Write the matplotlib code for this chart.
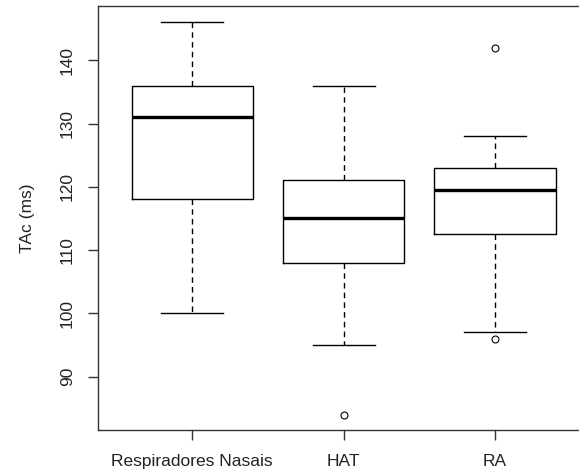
import matplotlib
matplotlib.use("Agg")
import matplotlib.pyplot as plt

plt.rcParams['font.family'] = ['Liberation Sans', 'DejaVu Sans']

groups = ["Respiradores Nasais", "HAT", "RA"]
whisker_low = [100, 95, 97]
q1 = [118, 108, 112.5]
medians = [131, 115, 119.5]
q3 = [136, 121, 123]
whisker_high = [146, 136, 128]
outliers = [[], [84], [96, 142]]

stats = []
for i in range(len(groups)):
    stats.append({"label": groups[i], "whislo": whisker_low[i], "q1": q1[i],
                  "med": medians[i], "q3": q3[i], "whishi": whisker_high[i],
                  "fliers": outliers[i]})

fig = plt.figure(figsize=(5.79, 4.74), dpi=100)
ax = fig.add_axes([0.170, 0.0918, 0.847, 0.8945])

ax.bxp(stats, positions=[1, 2, 3], widths=0.8, showfliers=True,
       boxprops=dict(color="black", linewidth=1.0),
       medianprops=dict(color="black", linewidth=2.4),
       whiskerprops=dict(color="black", linewidth=1.0, linestyle=(0, (4, 3))),
       capprops=dict(color="black", linewidth=1.0),
       flierprops=dict(marker="o", markerfacecolor="white", markeredgecolor="black",
                       markersize=5, markeredgewidth=0.8),
       capwidths=0.41)

ax.set_xlim(0.38, 3.62)
ax.set_ylim(81.52, 148.48)
ax.set_yticks([90, 100, 110, 120, 130, 140])
ax.set_xticks([1, 2, 3])
ax.set_xticklabels(groups)
for lbl in ax.get_yticklabels():
    lbl.set_rotation(90)
    lbl.set_va("center")
ax.tick_params(axis="both", length=7, width=1.0, color="#333333", labelsize=12.5,
               labelcolor="#222222", pad=10)
for sp in ax.spines.values():
    sp.set_color("#333333")
    sp.set_linewidth(1.0)
ax.set_ylabel("TAc (ms)", fontsize=12.5, color="#222222")
ax.yaxis.set_label_coords(-0.13, 0.5)

fig.savefig("out.png", dpi=100)
